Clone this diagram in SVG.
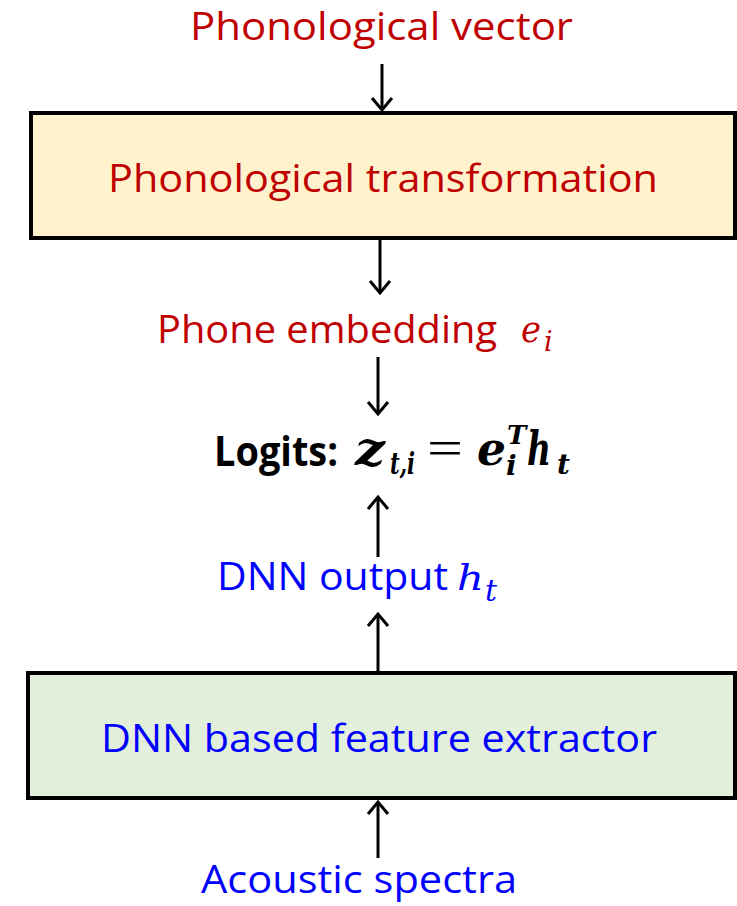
<svg xmlns="http://www.w3.org/2000/svg" width="737" height="906" viewBox="0 0 737 906">
<defs>
<style>
.lbl{font-family:"Open Sans","Liberation Sans",sans-serif;font-size:38px}
.red{fill:#c00000}
.blue{fill:#0000ff}
.math{font-family:"DejaVu Serif","Liberation Serif",serif;font-style:italic}
.bm{font-family:"DejaVu Serif","Liberation Serif",serif;font-style:italic;font-weight:bold;fill:#000}
.box{stroke:#000;stroke-width:4}
.conn{stroke:#000;stroke-width:3;fill:none}
</style>
<marker id="ah" markerUnits="userSpaceOnUse" markerWidth="30" markerHeight="30" viewBox="-16 -15 20 30" refX="0" refY="0" orient="auto">
<path d="M-12,-10 L0,0 L-12,10" fill="none" stroke="#000" stroke-width="3"/>
</marker>
</defs>
<rect width="737" height="906" fill="#fff"/>
<g id="connectors">
<line class="conn" x1="382" y1="64" x2="382" y2="110" marker-end="url(#ah)"/>
<line class="conn" x1="380" y1="240" x2="380" y2="293" marker-end="url(#ah)"/>
<line class="conn" x1="378" y1="357" x2="378" y2="414" marker-end="url(#ah)"/>
<line class="conn" x1="378" y1="557" x2="378" y2="497" marker-end="url(#ah)"/>
<line class="conn" x1="378" y1="671" x2="378" y2="614" marker-end="url(#ah)"/>
<line class="conn" x1="378" y1="858" x2="378" y2="802" marker-end="url(#ah)"/>
</g>
<g id="phonological-vector">
<text class="lbl red" x="190" y="40" textLength="383" lengthAdjust="spacingAndGlyphs">Phonological vector</text>
</g>
<g id="phonological-transformation">
<rect class="box" x="31" y="113" width="704" height="125" fill="#fff2cc"/>
<text class="lbl red" x="108" y="192" textLength="550" lengthAdjust="spacingAndGlyphs">Phonological transformation</text>
</g>
<g id="phone-embedding">
<text class="lbl red" x="157" y="343" textLength="340" lengthAdjust="spacingAndGlyphs">Phone embedding</text>
<text class="math red" x="521" y="342" font-size="37" textLength="20" lengthAdjust="spacingAndGlyphs">e</text>
<text class="math red" x="544" y="351" font-size="27">i</text>
</g>
<g id="logits">
<text x="214" y="466" font-family="Open Sans, Liberation Sans, sans-serif" font-weight="bold" font-size="41" fill="#000" textLength="124" lengthAdjust="spacingAndGlyphs">Logits:</text>
<text class="bm" x="355" y="465" font-size="46" textLength="30" lengthAdjust="spacingAndGlyphs">z</text>
<text class="bm" x="390" y="474" font-size="29" textLength="25" lengthAdjust="spacingAndGlyphs">t,i</text>
<text x="427" y="465" font-family="Liberation Serif, DejaVu Serif, serif" font-size="50" fill="#000" textLength="36" lengthAdjust="spacingAndGlyphs">=</text>
<text class="bm" x="477" y="465" font-size="46" textLength="29" lengthAdjust="spacingAndGlyphs">e</text>
<text class="bm" x="507" y="444" font-size="26">T</text>
<text class="bm" x="506" y="475" font-size="28">i</text>
<text class="bm" x="527" y="465" font-size="46" textLength="24" lengthAdjust="spacingAndGlyphs">h</text>
<text class="bm" x="557" y="474" font-size="28">t</text>
</g>
<g id="dnn-output">
<text class="lbl blue" x="217" y="590" textLength="231" lengthAdjust="spacingAndGlyphs">DNN output</text>
<text class="math blue" x="457" y="590" font-size="36" textLength="27" lengthAdjust="spacingAndGlyphs">h</text>
<text class="math blue" x="485" y="601" font-size="30">t</text>
</g>
<g id="dnn-feature-extractor">
<rect class="box" x="28" y="673" width="707" height="125" fill="#e2efda"/>
<text class="lbl blue" x="101" y="752" textLength="556" lengthAdjust="spacingAndGlyphs">DNN based feature extractor</text>
</g>
<g id="acoustic-spectra">
<text class="lbl blue" x="201" y="893" textLength="316" lengthAdjust="spacingAndGlyphs">Acoustic spectra</text>
</g>
</svg>
